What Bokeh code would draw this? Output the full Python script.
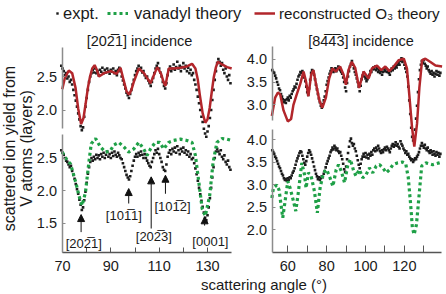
import numpy as np
from bokeh.plotting import figure
from bokeh.models import (Range1d, LinearAxis, FixedTicker, Label, Arrow, NormalHead,
                          Legend, LegendItem, NumeralTickFormatter)
from bokeh.embed import file_html
from bokeh.resources import INLINE

W, H = 446, 294
FONT = "Liberation Sans"
RED = "#b2262b"
GREEN = "#1fa047"
DOT = "#1c1c1c"
INK = "#1a1a1a"

# ---------------- measured yields, [20-21] incidence ----------------
ANG_L = [
    69.5, 70.0, 70.5, 71.0, 71.5, 72.0, 72.5, 73.0, 73.5, 74.0,
    74.5, 75.0, 75.5, 76.0, 76.5, 77.0, 77.5, 78.0, 78.5, 79.0,
    79.5, 80.0, 80.5, 81.0, 81.5, 82.0, 82.5, 83.0, 83.5, 84.0,
    84.5, 85.0, 85.5, 86.0, 86.5, 87.0, 87.5, 88.0, 88.5, 89.0,
    89.5, 90.0, 90.5, 91.0, 91.5, 92.0, 92.5, 93.0, 93.5, 94.0,
    94.5, 95.0, 95.5, 96.0, 96.5, 97.0, 97.5, 98.0, 98.5, 99.0,
    99.5, 100.0, 100.5, 101.0, 101.5, 102.0, 102.5, 103.0, 103.5, 104.0,
    104.5, 105.0, 105.5, 106.0, 106.5, 107.0, 107.5, 108.0, 108.5, 109.0,
    109.5, 110.0, 110.5, 111.0, 111.5, 112.0, 112.5, 113.0, 113.5, 114.0,
    114.5, 115.0, 115.5, 116.0, 116.5, 117.0, 117.5, 118.0, 118.5, 119.0,
    119.5, 120.0, 120.5, 121.0, 121.5, 122.0, 122.5, 123.0, 123.5, 124.0,
    124.5, 125.0, 125.5, 126.0, 126.5, 127.0, 127.5, 128.0, 128.5, 129.0,
    129.5, 130.0, 130.5, 131.0, 131.5, 132.0, 132.5, 133.0, 133.5, 134.0,
    134.5, 135.0, 135.5, 136.0, 136.5, 137.0, 137.5, 138.0, 138.5, 139.0,
    139.5,
]
EXPT_TL = [
    2.66, 2.62, 2.58, 2.52, 2.55, 2.47, 2.50, 2.42, 2.45, 2.38,
    2.30, 2.22, 2.14, 2.05, 1.95, 1.86, 1.76, 1.70, 1.74, 1.90,
    2.05, 2.18, 2.30, 2.42, 2.50, 2.55, 2.60, 2.56, 2.62, 2.55,
    2.58, 2.52, 2.60, 2.57, 2.63, 2.55, 2.60, 2.56, 2.62, 2.58,
    2.54, 2.60, 2.57, 2.62, 2.55, 2.58, 2.52, 2.60, 2.63, 2.58,
    2.50, 2.44, 2.38, 2.32, 2.26, 2.22, 2.18, 2.24, 2.30, 2.38,
    2.45, 2.52, 2.58, 2.62, 2.66, 2.60, 2.63, 2.56, 2.58, 2.52,
    2.48, 2.50, 2.44, 2.40, 2.36, 2.42, 2.48, 2.55, 2.62, 2.66,
    2.70, 2.62, 2.56, 2.50, 2.42, 2.36, 2.32, 2.40, 2.52, 2.60,
    2.65, 2.58, 2.62, 2.68, 2.60, 2.64, 2.72, 2.62, 2.66, 2.58,
    2.64, 2.70, 2.62, 2.66, 2.58, 2.63, 2.55, 2.60, 2.52, 2.55,
    2.45, 2.38, 2.30, 2.20, 2.10, 2.00, 1.90, 1.82, 1.72, 1.65,
    1.60, 1.68, 1.76, 1.88, 2.00, 2.15, 2.30, 2.45, 2.58, 2.70,
    2.76, 2.72, 2.66, 2.70, 2.60, 2.55, 2.62, 2.50, 2.45, 2.52,
    2.40,
]
EXPT_BL = [
    2.62, 2.58, 2.55, 2.50, 2.46, 2.44, 2.40, 2.36, 2.38, 2.30,
    2.24, 2.18, 2.10, 2.02, 1.95, 1.86, 1.78, 1.70, 1.74, 1.85,
    1.98, 2.12, 2.26, 2.36, 2.44, 2.50, 2.46, 2.52, 2.48, 2.55,
    2.50, 2.54, 2.48, 2.56, 2.52, 2.58, 2.50, 2.55, 2.60, 2.52,
    2.56, 2.50, 2.58, 2.53, 2.60, 2.55, 2.52, 2.58, 2.54, 2.50,
    2.48, 2.42, 2.36, 2.30, 2.24, 2.20, 2.17, 2.22, 2.30, 2.38,
    2.46, 2.52, 2.56, 2.52, 2.58, 2.54, 2.60, 2.55, 2.50, 2.56,
    2.50, 2.46, 2.42, 2.38, 2.36, 2.44, 2.50, 2.56, 2.62, 2.58,
    2.64, 2.56, 2.50, 2.44, 2.36, 2.32, 2.30, 2.40, 2.52, 2.58,
    2.62, 2.56, 2.64, 2.60, 2.66, 2.58, 2.68, 2.62, 2.56, 2.64,
    2.60, 2.66, 2.58, 2.62, 2.55, 2.60, 2.52, 2.56, 2.48, 2.50,
    2.42, 2.34, 2.25, 2.15, 2.04, 1.94, 1.84, 1.75, 1.66, 1.58,
    1.54, 1.62, 1.74, 1.88, 2.04, 2.20, 2.36, 2.50, 2.60, 2.64,
    2.60, 2.56, 2.62, 2.52, 2.48, 2.54, 2.44, 2.40, 2.46, 2.36,
    2.32,
]

# ---------------- measured yields, [84-4-3] incidence ----------------
ANG_R = [
    52.0, 52.5, 53.0, 53.5, 54.0, 54.5, 55.0, 55.5, 56.0, 56.5,
    57.0, 57.5, 58.0, 58.5, 59.0, 59.5, 60.0, 60.5, 61.0, 61.5,
    62.0, 62.5, 63.0, 63.5, 64.0, 64.5, 65.0, 65.5, 66.0, 66.5,
    67.0, 67.5, 68.0, 68.5, 69.0, 69.5, 70.0, 70.5, 71.0, 71.5,
    72.0, 72.5, 73.0, 73.5, 74.0, 74.5, 75.0, 75.5, 76.0, 76.5,
    77.0, 77.5, 78.0, 78.5, 79.0, 79.5, 80.0, 80.5, 81.0, 81.5,
    82.0, 82.5, 83.0, 83.5, 84.0, 84.5, 85.0, 85.5, 86.0, 86.5,
    87.0, 87.5, 88.0, 88.5, 89.0, 89.5, 90.0, 90.5, 91.0, 91.5,
    92.0, 92.5, 93.0, 93.5, 94.0, 94.5, 95.0, 95.5, 96.0, 96.5,
    97.0, 97.5, 98.0, 98.5, 99.0, 99.5, 100.0, 100.5, 101.0, 101.5,
    102.0, 102.5, 103.0, 103.5, 104.0, 104.5, 105.0, 105.5, 106.0, 106.5,
    107.0, 107.5, 108.0, 108.5, 109.0, 109.5, 110.0, 110.5, 111.0, 111.5,
    112.0, 112.5, 113.0, 113.5, 114.0, 114.5, 115.0, 115.5, 116.0, 116.5,
    117.0, 117.5, 118.0, 118.5, 119.0, 119.5, 120.0, 120.5, 121.0, 121.5,
    122.0, 122.5, 123.0, 123.5, 124.0, 124.5, 125.0, 125.5, 126.0, 126.5,
    127.0, 127.5, 128.0, 128.5, 129.0, 129.5, 130.0, 130.5, 131.0, 131.5,
    132.0, 132.5, 133.0, 133.5, 134.0, 134.5, 135.0, 135.5, 136.0, 136.5,
    137.0, 137.5, 138.0, 138.5,
]
EXPT_TR = [
    3.76, 3.72, 3.70, 3.64, 3.58, 3.50, 3.44, 3.36, 3.32, 3.24,
    3.18, 3.12, 3.06, 3.10, 3.04, 3.12, 3.16, 3.10, 3.20, 3.16,
    3.24, 3.30, 3.34, 3.40, 3.38, 3.46, 3.55, 3.62, 3.66, 3.72,
    3.70, 3.74, 3.68, 3.60, 3.52, 3.40, 3.28, 3.22, 3.36, 3.55,
    3.70, 3.76, 3.74, 3.66, 3.56, 3.44, 3.34, 3.24, 3.14, 3.06,
    2.98, 2.94, 3.02, 3.10, 3.18, 3.30, 3.44, 3.52, 3.60, 3.68,
    3.74, 3.80, 3.78, 3.72, 3.76, 3.80, 3.74, 3.78, 3.84, 3.80,
    3.76, 3.72, 3.68, 3.60, 3.50, 3.38, 3.30, 3.48, 3.62, 3.74,
    3.84, 3.90, 3.96, 3.88, 3.80, 3.72, 3.66, 3.58, 3.50, 3.40,
    3.30, 3.42, 3.56, 3.64, 3.70, 3.62, 3.58, 3.52, 3.56, 3.62,
    3.66, 3.74, 3.72, 3.78, 3.82, 3.78, 3.84, 3.76, 3.80, 3.72,
    3.76, 3.70, 3.74, 3.66, 3.72, 3.78, 3.74, 3.80, 3.72, 3.76,
    3.70, 3.66, 3.74, 3.80, 3.76, 3.84, 3.80, 3.86, 3.82, 3.88,
    3.92, 3.88, 3.96, 4.02, 3.94, 3.98, 3.88, 3.80, 3.72, 3.62,
    3.40, 3.10, 2.80, 2.50, 2.30, 2.22, 2.28, 2.46, 2.70, 2.98,
    3.28, 3.56, 3.76, 3.88, 3.96, 3.92, 3.98, 3.90, 3.86, 3.80,
    3.84, 3.76, 3.72, 3.68, 3.74, 3.66, 3.70, 3.62, 3.68, 3.74,
    3.66, 3.72, 3.64, 3.70,
]
EXPT_BR = [
    3.76, 3.72, 3.68, 3.62, 3.58, 3.52, 3.46, 3.40, 3.36, 3.30,
    3.24, 3.20, 3.14, 3.10, 3.12, 3.08, 3.14, 3.10, 3.16, 3.14,
    3.20, 3.26, 3.30, 3.36, 3.44, 3.52, 3.58, 3.64, 3.70, 3.74,
    3.72, 3.64, 3.56, 3.48, 3.44, 3.52, 3.62, 3.70, 3.76, 3.72,
    3.66, 3.58, 3.50, 3.40, 3.32, 3.24, 3.18, 3.12, 3.16, 3.10,
    3.14, 3.18, 3.16, 3.24, 3.30, 3.38, 3.46, 3.52, 3.58, 3.64,
    3.72, 3.76, 3.82, 3.78, 3.86, 3.82, 3.76, 3.80, 3.74, 3.70,
    3.72, 3.64, 3.56, 3.46, 3.34, 3.28, 3.40, 3.56, 3.70, 3.84,
    3.96, 4.02, 3.92, 3.86, 3.90, 3.80, 3.74, 3.64, 3.54, 3.44,
    3.36, 3.46, 3.56, 3.62, 3.68, 3.62, 3.70, 3.60, 3.66, 3.58,
    3.68, 3.64, 3.72, 3.66, 3.76, 3.80, 3.74, 3.82, 3.76, 3.86,
    3.80, 3.74, 3.70, 3.76, 3.72, 3.78, 3.82, 3.76, 3.84, 3.80,
    3.76, 3.72, 3.80, 3.86, 3.90, 3.84, 3.88, 3.94, 3.86, 3.90,
    3.84, 3.80, 3.96, 3.90, 3.86, 3.80, 3.76, 3.70, 3.74, 3.66,
    3.68, 3.62, 3.58, 3.54, 3.56, 3.50, 3.54, 3.58, 3.56, 3.62,
    3.66, 3.72, 3.80, 3.86, 3.92, 3.86, 3.82, 3.88, 3.80, 3.76,
    3.82, 3.74, 3.70, 3.76, 3.72, 3.66, 3.74, 3.68, 3.64, 3.72,
    3.66, 3.70, 3.62, 3.68,
]

# ---------------- simulated yields ----------------
O3_TL_ANG = [69.9, 71.0, 72.6, 74.0, 75.4, 76.5, 77.7, 78.7, 79.6, 80.5,
             81.4, 82.3, 83.3, 84.2, 85.1, 87.2, 90.0, 92.4, 94.0, 95.4,
             96.5, 97.5, 98.5, 99.5, 101.6, 103.7, 105.0, 106.4, 107.8, 109.2,
             110.8, 111.8, 112.6, 113.3, 114.0, 116.0, 118.8, 121.5, 123.6, 125.0,
             126.0, 126.8, 128.0, 129.1, 130.0, 130.9, 131.8, 132.6, 133.5, 134.3,
             136.0, 138.1, 140.0]
O3_TL = [2.31, 2.48, 2.59, 2.55, 2.33, 2.02, 1.79, 1.88, 2.10, 2.33,
         2.50, 2.62, 2.67, 2.60, 2.50, 2.55, 2.58, 2.54, 2.63, 2.43,
         2.28, 2.23, 2.30, 2.42, 2.62, 2.55, 2.48, 2.40, 2.52, 2.64,
         2.54, 2.42, 2.36, 2.50, 2.62, 2.62, 2.63, 2.65, 2.69, 2.62,
         2.45, 2.23, 1.95, 1.81, 1.86, 2.03, 2.28, 2.49, 2.64, 2.72,
         2.68, 2.64, 2.62]

VAN_BL_ANG = [69.9, 72.0, 73.3, 74.7, 75.8, 76.8, 78.1, 79.5, 80.2, 80.9,
              81.9, 83.7, 85.7, 87.8, 89.8, 91.2, 93.3, 95.4, 97.4, 99.5,
              101.6, 103.6, 105.0, 106.4, 108.4, 110.2, 111.9, 113.9, 116.0, 118.8,
              121.5, 123.6, 125.0, 126.4, 127.8, 129.1, 130.9, 132.3, 133.9, 136.0,
              138.0, 140.0]
VAN_BL = [2.59, 2.46, 2.41, 2.23, 2.08, 1.92, 1.77, 1.97, 2.20, 2.43,
          2.72, 2.80, 2.67, 2.59, 2.61, 2.70, 2.74, 2.67, 2.59, 2.64,
          2.74, 2.64, 2.54, 2.64, 2.74, 2.74, 2.64, 2.74, 2.77, 2.79,
          2.77, 2.74, 2.54, 2.13, 1.72, 1.61, 1.92, 2.43, 2.74, 2.80,
          2.79, 2.77]

O3_TR_ANG = [51.8, 53.5, 54.9, 56.1, 57.8, 60.0, 61.7, 62.9, 64.6, 66.4,
             68.1, 69.4, 70.6, 72.0, 73.2, 74.6, 76.3, 77.8, 79.6, 81.3,
             83.0, 84.7, 86.9, 88.7, 89.9, 91.2, 92.9, 94.7, 96.7, 99.0,
             101.6, 103.3, 105.9, 108.1, 110.2, 112.2, 114.5, 117.1, 119.7, 121.3,
             122.5, 123.9, 125.1, 126.5, 127.7, 129.1, 130.8, 133.4, 136.0, 139.4]
O3_TR = [2.76, 3.16, 3.27, 3.23, 2.88, 2.64, 2.69, 3.00, 3.23, 3.46,
         3.73, 3.51, 3.19, 3.66, 3.76, 3.44, 3.09, 2.94, 3.16, 3.58,
         3.80, 3.73, 3.84, 3.66, 3.44, 3.76, 3.94, 3.81, 3.37, 3.73,
         3.58, 3.80, 3.86, 3.76, 3.84, 3.74, 3.84, 3.98, 4.01, 3.80,
         3.23, 2.52, 2.09, 2.59, 3.37, 3.98, 4.01, 3.94, 3.86, 3.84]

VAN_BR_ANG = [51.8, 52.6, 54.3, 55.5, 57.4, 58.6, 60.0, 61.2, 62.9, 64.1,
              65.5, 67.2, 68.6, 69.4, 70.6, 72.0, 73.7, 75.2, 76.6, 78.3,
              80.0, 81.7, 83.2, 84.9, 86.1, 87.5, 89.2, 90.9, 92.2, 93.9,
              95.1, 96.8, 98.6, 100.3, 102.0, 103.7, 105.5, 107.2, 108.9, 110.6,
              112.4, 114.1, 116.4, 118.9, 120.7, 122.0, 123.2, 124.1, 125.0, 126.2,
              127.6, 128.9, 131.0, 134.5, 137.9, 139.6]
VAN_BR = [2.70, 2.92, 2.99, 2.88, 2.26, 2.63, 3.07, 2.92, 2.63, 2.41,
          2.85, 3.48, 3.22, 2.92, 3.26, 3.19, 2.85, 2.37, 2.92, 3.26,
          3.33, 3.15, 2.96, 3.33, 3.44, 3.30, 3.04, 3.44, 3.56, 3.30,
          3.19, 3.33, 3.15, 3.22, 3.37, 3.26, 3.41, 3.44, 3.37, 3.26,
          3.33, 3.44, 3.48, 3.50, 3.46, 3.15, 2.56, 2.04, 1.89, 2.11,
          2.78, 3.41, 3.48, 3.44, 3.48, 3.50]

# blocking directions marked in the lower left panel
DIR_LABELS = ["[202\u03051]", "[101\u03051]", "[202\u03053]", "[101\u03052]", "[0001]"]
DIR_ANG = [77.7, 97.4, 106.7, 112.6, 128.8]


def fit_range(v_a, px_a, v_b, px_b, px_lo, px_hi):
    """Range whose values v_a, v_b land on pixels px_a, px_b of a span px_lo..px_hi."""
    k = (px_b - px_a) / (v_b - v_a)
    return Range1d(start=v_a + (px_lo - px_a) / k, end=v_a + (px_hi - px_a) / k)


p = figure(width=W, height=H, x_range=Range1d(0, W), y_range=Range1d(0, H),
           x_axis_type=None, y_axis_type=None, output_backend="svg",
           toolbar_location=None, min_border=0)
p.outline_line_color = None
p.background_fill_color = "white"
p.border_fill_color = "white"

# one frame, four stacked panels: each gets its own scale
p.extra_x_ranges = {
    "L": fit_range(70, 62, 130, 207, 0, W),
    "R": fit_range(60, 287.3, 120, 403.9, 0, W),
}
p.extra_y_ranges = {
    "TL": fit_range(2.5, 76, 2.0, 109.5, H, 0),
    "BL": fit_range(2.5, 157.5, 1.5, 222.5, H, 0),
    "TR": fit_range(4.0, 58.7, 3.0, 104.4, H, 0),
    "BR": fit_range(4.0, 139, 2.0, 229, H, 0),
}


def y_axis(name, ticks, bounds, at):
    ax = LinearAxis(y_range_name=name, ticker=FixedTicker(ticks=ticks), bounds=bounds,
                    fixed_location=at, formatter=NumeralTickFormatter(format="0.0"))
    ax.axis_line_color = "#8c8c8c"
    ax.axis_line_width = 1.5
    ax.major_tick_in = 3
    ax.major_tick_out = 0
    ax.major_tick_line_color = "#8c8c8c"
    ax.minor_tick_in = 0
    ax.minor_tick_out = 0
    ax.major_label_standoff = 5
    ax.major_label_text_font = FONT
    ax.major_label_text_font_size = "14.5px"
    ax.major_label_text_color = INK
    p.add_layout(ax, "left")


def x_axis(name, ticks, minor, bounds, tick_len):
    ax = LinearAxis(x_range_name=name, ticker=FixedTicker(ticks=ticks, minor_ticks=minor),
                    bounds=bounds, fixed_location=H - 252)
    ax.axis_line_color = "#555555"
    ax.axis_line_width = 1.5
    ax.major_tick_in = tick_len
    ax.major_tick_out = 0
    ax.minor_tick_in = tick_len
    ax.minor_tick_out = 0
    ax.major_tick_line_color = "#555555"
    ax.minor_tick_line_color = "#555555"
    ax.major_label_standoff = 8
    ax.major_label_text_font = FONT
    ax.major_label_text_font_size = "14.5px"
    ax.major_label_text_color = INK
    p.add_layout(ax, "below")


y_axis("TL", [2.0, 2.5], (1.73, 2.93), 61.5)
y_axis("BL", [1.5, 2.0, 2.5], (1.046, 2.854), 61.5)
y_axis("TR", [3.0, 3.5, 4.0], (2.65, 4.28), 271.5)
y_axis("BR", [2.0, 2.5, 3.0, 3.5, 4.0], (1.49, 4.233), 271.5)
x_axis("L", [70, 90, 110, 130], [80, 100, 120], (69.8, 139.9), 5)
x_axis("R", [60, 80, 100, 120], [70, 90, 110, 130], (51.9, 139.0), 7)

# experiment
dots = {}
for key, xr, xs, ys in [("TL", "L", ANG_L, EXPT_TL), ("BL", "L", ANG_L, EXPT_BL),
                        ("TR", "R", ANG_R, EXPT_TR), ("BR", "R", ANG_R, EXPT_BR)]:
    dots[key] = p.scatter(xs, ys, x_range_name=xr, y_range_name=key, marker="square",
                          size=2.6, fill_color=DOT, line_color=None)

# theory
red_tl = p.line(O3_TL_ANG, O3_TL, x_range_name="L", y_range_name="TL",
                line_color=RED, line_width=2.5)
p.line(O3_TR_ANG, O3_TR, x_range_name="R", y_range_name="TR",
       line_color=RED, line_width=2.5)
green_bl = p.line(VAN_BL_ANG, VAN_BL, x_range_name="L", y_range_name="BL",
                  line_color=GREEN, line_width=3.2, line_dash="3 3")
p.line(VAN_BR_ANG, VAN_BR, x_range_name="R", y_range_name="BR",
       line_color=GREEN, line_width=3.2, line_dash="3 3")

# legend row across the top
for x0, label, rend, gw, gap, fs in [(54, "expt.", dots["TL"], 6, 3, "16.5px"),
                                     (107, "vanadyl theory", green_bl, 21, 6, "16.5px"),
                                     (254, "reconstructed O\u2083 theory", red_tl, 21, 4,
                                      "15.2px")]:
    lg = Legend(items=[LegendItem(label=label, renderers=[rend])], location=(x0, H - 23),
                glyph_width=gw, glyph_height=16, label_standoff=gap, padding=0, margin=0,
                spacing=0, label_height=20, border_line_color=None,
                background_fill_alpha=0, label_text_font=FONT,
                label_text_font_size=fs, label_text_color=INK)
    p.add_layout(lg)

# panel titles
for cx, txt in [(139, "[202\u03051] incidence"), (360.5, "[84\u03054\u03053] incidence")]:
    p.add_layout(Label(x=cx, y=H - 40, x_units="screen", y_units="screen", text=txt,
                       text_align="center", text_baseline="middle", text_font=FONT,
                       text_font_size="14.5px", text_color=INK))

# axis titles
for cx, txt in [(9, "scattered ion yield from"), (25.5, "V atoms (layers)")]:
    p.add_layout(Label(x=cx, y=H - 148, x_units="screen", y_units="screen", text=txt,
                       angle=np.pi / 2, text_align="center", text_baseline="middle",
                       text_font=FONT, text_font_size="16px", text_color=INK))
p.add_layout(Label(x=263.5, y=H - 284, x_units="screen", y_units="screen",
                   text="scattering angle (\u00b0)", text_align="center",
                   text_baseline="middle", text_font=FONT, text_font_size="15px",
                   text_color=INK))

# arrows and direction labels in the lower left panel
tails = [1.36, 1.80, 1.415, 1.95, 1.46]
tips = [1.63, 2.03, 2.21, 2.235, 1.595]
lab_x = [78.8, 95.4, 107.8, 115.5, 131.2]
lab_y = [1.177, 1.623, 1.292, 1.754, 1.215]
for ang, y0, y1, lx, ly, txt in zip(DIR_ANG, tails, tips, lab_x, lab_y, DIR_LABELS):
    p.add_layout(Arrow(end=NormalHead(size=7, fill_color="#111111", line_color="#111111"),
                       x_start=ang, y_start=y0, x_end=ang, y_end=y1,
                       x_range_name="L", y_range_name="BL",
                       line_color="#111111", line_width=1))
    p.add_layout(Label(x=lx, y=ly, x_range_name="L", y_range_name="BL", text=txt,
                       text_align="center", text_baseline="middle", text_font=FONT,
                       text_font_size="13px", text_color=INK))

open("out.html", "w").write(file_html(p, INLINE))
